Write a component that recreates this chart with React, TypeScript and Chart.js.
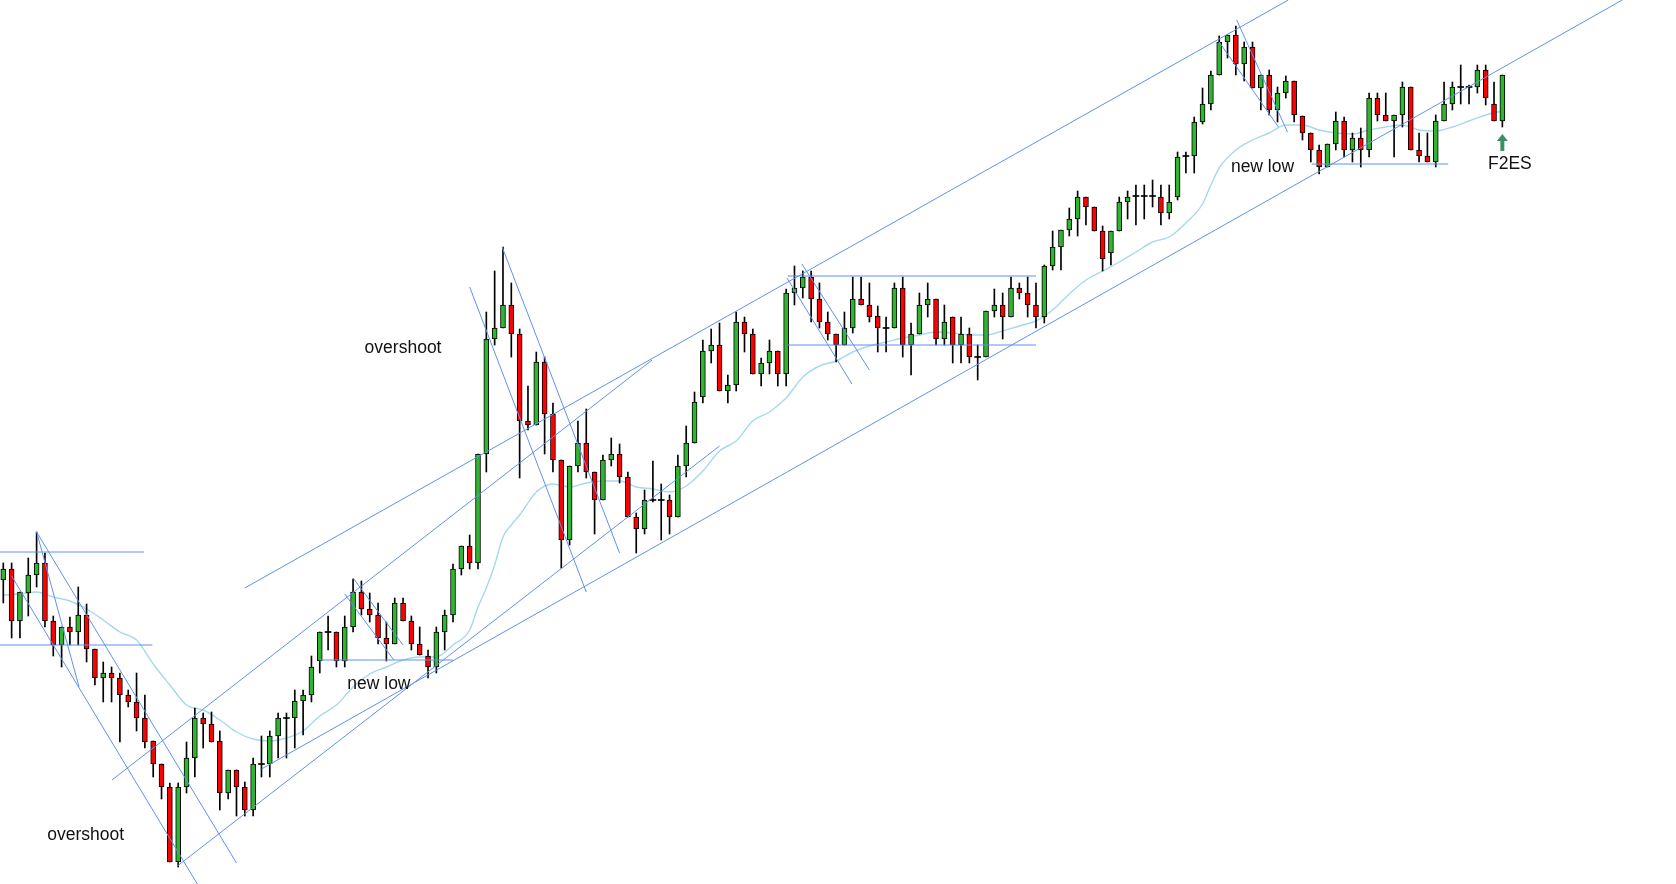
import React, { useEffect, useRef } from 'react';
import { Chart, registerables } from 'chart.js';

Chart.register(...registerables);

// ---- candle data (bar index 0..180), price in points ----
const opens = [
  420, 431, 379, 407, 425, 437, 379, 355, 373, 368,
  385, 351, 322, 327, 322, 305, 298, 282, 259, 236,
  213, 138, 213, 242, 282, 276, 259, 207, 230, 213,
  190, 236, 236, 264, 282, 282, 299, 305, 339, 368,
  368, 339, 373, 408, 391, 385, 362, 356, 397, 379,
  356, 344, 333, 368, 385, 431, 454, 437, 546, 661,
  672, 695, 666, 579, 575, 638, 586, 540, 460, 534,
  557, 528, 500, 540, 546, 523, 483, 471, 500, 500,
  500, 483, 534, 557, 603, 649, 655, 609, 615, 678,
  666, 626, 637, 649, 626, 707, 712, 723, 701, 678,
  666, 655, 672, 701, 695, 684, 672, 672, 712, 655,
  666, 695, 701, 661, 683, 655, 666, 643, 643, 689,
  695, 683, 712, 707, 695, 683, 734, 753, 770, 781,
  803, 793, 769, 747, 769, 798, 804, 804, 804, 803,
  787, 803, 844, 844, 878, 896, 925, 958, 965, 936,
  953, 912, 925, 890, 907, 919, 884, 867, 850, 833,
  856, 879, 850, 862, 850, 902, 885, 879, 885, 913,
  850, 844, 838, 879, 896, 913, 913, 913, 930, 896,
  879,
];
const highs = [
  437, 437, 408, 442, 468, 447, 384, 373, 383, 413,
  396, 351, 338, 333, 327, 310, 327, 305, 259, 236,
  217, 217, 258, 292, 287, 288, 269, 230, 230, 218,
  242, 264, 269, 287, 287, 310, 310, 344, 368, 384,
  368, 384, 421, 419, 407, 397, 378, 402, 402, 384,
  373, 350, 373, 390, 436, 454, 465, 546, 688, 729,
  753, 717, 671, 614, 648, 643, 597, 540, 534, 579,
  591, 528, 545, 562, 556, 528, 487, 510, 539, 516,
  505, 545, 574, 608, 660, 671, 677, 625, 688, 683,
  671, 642, 660, 649, 711, 734, 729, 729, 717, 688,
  666, 688, 723, 723, 717, 694, 683, 717, 723, 677,
  707, 717, 701, 695, 683, 683, 672, 655, 689, 711,
  707, 723, 717, 723, 717, 735, 769, 770, 792, 809,
  803, 793, 774, 769, 803, 809, 815, 815, 820, 815,
  815, 848, 848, 883, 912, 929, 964, 965, 974, 958,
  958, 925, 930, 913, 924, 919, 884, 867, 855, 856,
  888, 883, 867, 872, 907, 907, 907, 885, 918, 913,
  867, 867, 885, 918, 918, 935, 915, 935, 935, 918,
  925,
];
const lows = [
  397, 362, 362, 384, 413, 373, 344, 333, 355, 355,
  338, 315, 298, 298, 258, 293, 269, 252, 223, 201,
  138, 133, 207, 223, 252, 258, 190, 201, 184, 184,
  184, 223, 223, 242, 242, 252, 265, 298, 327, 350,
  333, 333, 368, 385, 378, 356, 339, 356, 379, 350,
  345, 322, 327, 350, 378, 425, 431, 431, 528, 655,
  672, 643, 522, 570, 575, 546, 528, 432, 455, 528,
  522, 466, 500, 534, 517, 483, 447, 466, 498, 460,
  466, 483, 523, 557, 597, 637, 609, 597, 609, 648,
  626, 614, 626, 614, 614, 695, 702, 678, 672, 660,
  638, 655, 667, 695, 678, 648, 648, 672, 643, 625,
  666, 683, 655, 655, 637, 637, 637, 620, 643, 683,
  661, 683, 701, 683, 672, 677, 730, 730, 764, 764,
  775, 769, 729, 735, 769, 781, 775, 781, 793, 775,
  781, 800, 827, 827, 876, 890, 925, 942, 925, 919,
  912, 890, 885, 878, 902, 878, 860, 838, 826, 833,
  850, 843, 838, 833, 843, 879, 879, 843, 873, 850,
  838, 838, 833, 879, 890, 896, 896, 907, 895, 879,
  873,
];
const closes = [
  431, 379, 408, 425, 437, 379, 355, 373, 368, 385,
  351, 322, 327, 322, 305, 298, 282, 258, 236, 213,
  138, 213, 242, 282, 276, 258, 207, 230, 213, 190,
  236, 236, 264, 282, 282, 299, 305, 333, 368, 368,
  339, 373, 408, 391, 385, 362, 356, 397, 379, 356,
  345, 333, 368, 385, 431, 454, 437, 546, 661, 672,
  695, 666, 579, 575, 638, 586, 540, 460, 534, 557,
  528, 500, 540, 546, 523, 483, 471, 500, 500, 500,
  483, 534, 557, 598, 649, 655, 609, 615, 678, 666,
  626, 637, 649, 626, 707, 712, 723, 701, 678, 666,
  655, 672, 701, 695, 683, 672, 672, 712, 655, 666,
  695, 701, 661, 678, 655, 666, 643, 643, 689, 695,
  683, 712, 707, 695, 683, 734, 753, 770, 781, 803,
  793, 769, 741, 769, 798, 803, 804, 804, 804, 787,
  798, 843, 844, 878, 896, 925, 958, 965, 936, 953,
  912, 925, 890, 907, 919, 885, 867, 850, 833, 856,
  879, 850, 862, 850, 902, 885, 879, 885, 913, 850,
  844, 838, 879, 896, 913, 913, 913, 930, 902, 879,
  925,
];

// ---- moving average (bar index, value) ----
const maIdx = [
  0, 2, 4, 6, 8, 10, 12, 14, 16, 18, 20, 22, 24, 26, 28, 30, 32, 34, 36, 38,
  40, 42, 44, 46, 48, 50, 52, 54, 56, 57, 58, 59, 60, 61, 62, 64, 66, 68, 70, 72,
  74, 76, 78, 80, 82, 84, 86, 88, 90, 92, 94, 96, 98, 100, 102, 104, 106, 108, 110, 112,
  114, 116, 118, 120, 122, 124, 126, 128, 130, 132, 134, 136, 138, 140, 142, 144, 145, 146, 148, 150,
  152, 154, 156, 158, 160, 162, 164, 166, 168, 170, 172, 174, 176, 178, 180,
];
const maVals = [
  405, 406, 408, 403, 399, 391, 380, 368, 360, 336, 315, 295, 290, 280, 268, 261, 259, 262, 269, 284,
  295, 313, 326, 333, 340, 343, 343, 355, 370, 393, 412, 435, 463, 475, 485, 508, 516, 513, 517, 519,
  519, 513, 511, 508, 514, 529, 549, 559, 579, 588, 602, 623, 634, 639, 648, 654, 658, 662, 665, 668,
  667, 665, 665, 669, 674, 679, 690, 706, 720, 729, 738, 748, 758, 763, 777, 796, 815, 832, 850, 860,
  867, 875, 875, 870, 867, 866, 870, 873, 875, 870, 869, 873, 879, 885, 889,
];

// ---- drawn trend lines [fromIndex, fromPrice, toIndex, toPrice] ----
const trendLines = [
  [-0.4, 448, 16.9, 448],
  [-0.4, 355, 17.9, 355],
  [4, 468, 9.1, 313],
  [4, 468, 28.0, 137],
  [1.0, 424, 23.3, 116],
  [13.05, 220, 77.9, 640],
  [29.0, 412, 154.3, 1000],
  [20.9, 134, 86.0, 554],
  [31.0, 231, 194.4, 1000],
  [42.0, 422, 48.0, 355],
  [41.0, 406, 46.9, 340],
  [38.0, 340, 54.0, 340],
  [56.0, 713, 70.0, 408],
  [59.9, 753, 74.0, 447],
  [94.1, 722, 101.9, 616],
  [95.9, 736, 104.0, 630],
  [94.2, 724, 124.0, 724],
  [94.2, 655, 124.0, 655],
  [148.1, 980, 154.2, 868],
  [146.0, 958, 153.1, 873],
  [157.1, 836, 173.5, 836],
];

// ---- text notes [label, bar index, baseline price] ----
const noteLabels = ['overshoot', 'overshoot', 'new low', 'new low', 'F2ES'];
const noteIdx = [9.9, 48.0, 45.1, 151.2, 180.9];
const notePrice = [160, 647, 311, 828, 831];

// signal arrow under the last bar [bar index, tip price, neck price, tail price]
const arrowSpec = [180, 866, 859, 849];

const X_MIN = -0.396;
const X_MAX = 200.85;
const Y_MIN = 116;
const Y_MAX = 1000;

const notesPlugin = {
  id: 'notes',
  afterDatasetsDraw(chart: any) {
    const { ctx } = chart;
    const xs = chart.scales.x;
    const ys = chart.scales.y;
    ctx.save();
    ctx.font = '17.5px "Liberation Sans", Arial, sans-serif';
    ctx.fillStyle = '#111';
    ctx.textAlign = 'center';
    ctx.textBaseline = 'alphabetic';
    noteLabels.forEach((t, i) => {
      ctx.fillText(t, xs.getPixelForValue(noteIdx[i]), ys.getPixelForValue(notePrice[i]));
    });
    const ax = xs.getPixelForValue(arrowSpec[0]);
    const tip = ys.getPixelForValue(arrowSpec[1]);
    const neck = ys.getPixelForValue(arrowSpec[2]);
    const tail = ys.getPixelForValue(arrowSpec[3]);
    ctx.fillStyle = '#3f8f66';
    ctx.beginPath();
    ctx.moveTo(ax, tip);
    ctx.lineTo(ax + 5.5, neck);
    ctx.lineTo(ax + 2, neck);
    ctx.lineTo(ax + 2, tail);
    ctx.lineTo(ax - 2, tail);
    ctx.lineTo(ax - 2, neck);
    ctx.lineTo(ax - 5.5, neck);
    ctx.closePath();
    ctx.fill();
    ctx.restore();
  },
};

export default function App() {
  const ref = useRef<HTMLCanvasElement>(null);

  useEffect(() => {
    if (!ref.current) return;
    const wicks: any[] = [];
    const up: any[] = [];
    const down: any[] = [];
    const doji: any[] = [];
    opens.forEach((o, i) => {
      const c = closes[i];
      wicks.push({ x: i, y: [lows[i], highs[i]] });
      if (o === c) doji.push({ x: i, y: [o - 0.5, o + 0.5] });
      else if (c > o) up.push({ x: i, y: [o, c] });
      else down.push({ x: i, y: [c, o] });
    });

    const lineSets = trendLines.map((l) => ({
      type: 'line' as const,
      data: [
        { x: l[0], y: l[1] },
        { x: l[2], y: l[3] },
      ],
      borderColor: 'rgba(95,145,237,1)',
      borderWidth: 1,
      pointRadius: 0,
      fill: false,
      tension: 0,
      order: 0,
    }));

    const chart = new Chart(ref.current, {
      type: 'bar',
      data: {
        datasets: [
          ...lineSets,
          {
            type: 'bar',
            data: up,
            backgroundColor: '#2fb52f',
            borderColor: '#000',
            borderWidth: 1,
            borderSkipped: false,
            barThickness: 5,
            grouped: false,
            order: 1,
          } as any,
          {
            type: 'bar',
            data: down,
            backgroundColor: '#ff0000',
            borderColor: '#000',
            borderWidth: 1,
            borderSkipped: false,
            barThickness: 5,
            grouped: false,
            order: 1,
          } as any,
          {
            type: 'bar',
            data: doji,
            backgroundColor: '#000',
            borderWidth: 0,
            barThickness: 6,
            grouped: false,
            order: 1,
          } as any,
          {
            type: 'bar',
            data: wicks,
            backgroundColor: '#000',
            borderWidth: 0,
            barThickness: 1,
            grouped: false,
            order: 2,
          } as any,
          {
            type: 'line',
            data: maIdx.map((x, i) => ({ x, y: maVals[i] })),
            borderColor: '#a6d8ef',
            borderWidth: 1.4,
            pointRadius: 0,
            fill: false,
            cubicInterpolationMode: 'monotone',
            order: 3,
          } as any,
        ],
      },
      options: {
        animation: false,
        responsive: false,
        devicePixelRatio: 1,
        events: [],
        layout: { padding: 0 },
        plugins: { legend: { display: false }, tooltip: { enabled: false } },
        scales: {
          x: { type: 'linear', min: X_MIN, max: X_MAX, display: false, offset: false },
          y: { type: 'linear', min: Y_MIN, max: Y_MAX, display: false },
        },
      },
      plugins: [notesPlugin],
    } as any);

    return () => chart.destroy();
  }, []);

  return (
    <div style={{ position: 'absolute', left: 0, top: 0, width: 1676, height: 884, background: '#fff' }}>
      <canvas ref={ref} width={1676} height={884} style={{ width: 1676, height: 884, display: 'block' }} />
    </div>
  );
}
